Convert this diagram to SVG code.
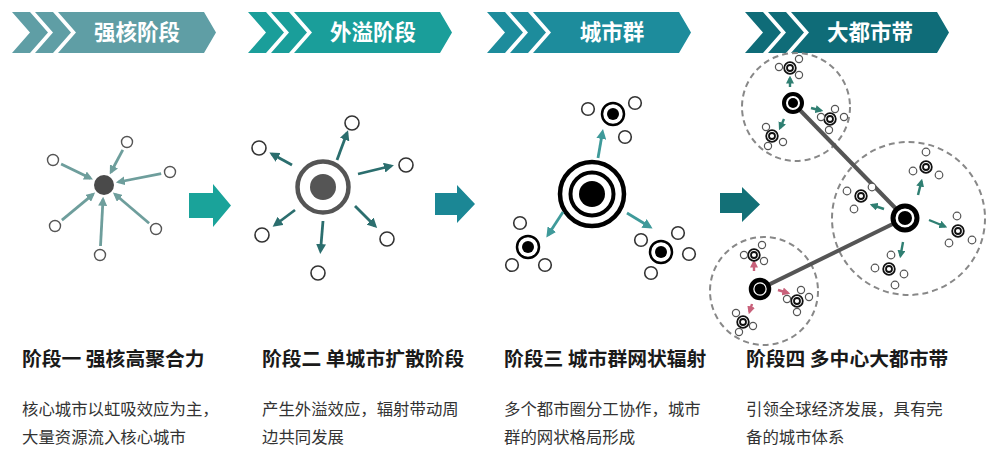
<svg xmlns="http://www.w3.org/2000/svg" width="1000" height="463" viewBox="0 0 1000 463">
<defs>
<style>
.hdr{font-family:"Noto Sans CJK SC","Noto Sans",sans-serif;font-weight:700;font-size:21.5px;fill:#fff;text-anchor:middle}
.ttl{font-family:"Noto Sans CJK SC","Noto Sans",sans-serif;font-weight:700;font-size:19.8px;fill:#1a1a1a}
.body{font-family:"Noto Sans CJK SC","Noto Sans",sans-serif;font-size:16.4px;fill:#333}
.sm{fill:#fff;stroke:#555;stroke-width:1.4}
.sm2{fill:#fff;stroke:#333;stroke-width:1.6}
.sm4{fill:#fff;stroke:#555;stroke-width:1.2}
.dr{fill:#fff;stroke:#111;stroke-width:1.8}
.dash{fill:none;stroke:#888;stroke-width:2;stroke-dasharray:6 4}
.link{stroke:#555;stroke-width:4;fill:none}
.a1{stroke:#6e9e9c;stroke-width:2.8;marker-end:url(#m1)}
.a2{stroke:#2b6e6e;stroke-width:2.8;marker-end:url(#m2)}
.a3{stroke:#3f9a9a;stroke-width:2.8;marker-end:url(#m3)}
.a4{stroke:#2f7f72;stroke-width:2.4;marker-end:url(#m4)}
.a5{stroke:#c8607a;stroke-width:2.4;marker-end:url(#m5)}
</style>
<marker id="m1" viewBox="0 0 10 10" refX="7" refY="5" markerWidth="9" markerHeight="9" markerUnits="userSpaceOnUse" orient="auto"><path d="M0,0 L10,5 L0,10 z" fill="#6e9e9c"/></marker>
<marker id="m2" viewBox="0 0 10 10" refX="7" refY="5" markerWidth="10" markerHeight="10" markerUnits="userSpaceOnUse" orient="auto"><path d="M0,0 L10,5 L0,10 z" fill="#2b6e6e"/></marker>
<marker id="m3" viewBox="0 0 10 10" refX="7" refY="5" markerWidth="10" markerHeight="10" markerUnits="userSpaceOnUse" orient="auto"><path d="M0,0 L10,5 L0,10 z" fill="#3f9a9a"/></marker>
<marker id="m4" viewBox="0 0 10 10" refX="7" refY="5" markerWidth="8" markerHeight="8" markerUnits="userSpaceOnUse" orient="auto"><path d="M0,0 L10,5 L0,10 z" fill="#2f7f72"/></marker>
<marker id="m5" viewBox="0 0 10 10" refX="7" refY="5" markerWidth="8" markerHeight="8" markerUnits="userSpaceOnUse" orient="auto"><path d="M0,0 L10,5 L0,10 z" fill="#c8607a"/></marker>
<g id="banner">
<polygon points="12,12 30,12 48,32.5 30,53 12,53 30,32.5"/>
<polygon points="35,12 53,12 71,32.5 53,53 35,53 53,32.5"/>
<polygon points="58,12 204,12 216,32.5 204,53 58,53 76,32.5"/>
</g>
<g id="dring"><circle r="5.8" class="dr"/><circle r="3" class="dr"/></g>
</defs>
<rect width="1000" height="463" fill="#fff"/>

<!-- headers -->
<g id="header1"><use href="#banner" fill="#5f9ea5"/><text class="hdr" x="137" y="40">强核阶段</text></g>
<g id="header2"><use href="#banner" transform="translate(236,0)" fill="#1a9e9a"/><text class="hdr" x="373" y="40">外溢阶段</text></g>
<g id="header3"><use href="#banner" transform="translate(475,0)" fill="#1d8c9c"/><text class="hdr" x="612" y="40">城市群</text></g>
<g id="header4"><use href="#banner" transform="translate(733,0)" fill="#0f6c78"/><text class="hdr" x="870" y="40">大都市带</text></g>

<!-- transition arrows -->
<g id="step-arrows">
<polygon points="189,193 213,193 213,184 231,205.5 213,227 213,218 189,218" fill="#1aa39a"/>
<polygon points="435,193 457,193 457,185 475,204 457,223 457,215 435,215" fill="#1b8795"/>
<polygon points="720,193 742,193 742,187 760,204.5 742,222 742,213 720,213" fill="#137077"/>
</g>

<!-- stage 1 -->
<g id="stage1">
<circle cx="104" cy="185" r="10" fill="#4a4a4a"/>
<circle cx="127" cy="142" r="5.5" class="sm"/>
<circle cx="53" cy="160" r="5.5" class="sm"/>
<circle cx="170" cy="172" r="5.5" class="sm"/>
<circle cx="55" cy="226" r="5.5" class="sm"/>
<circle cx="156" cy="229" r="5.5" class="sm"/>
<circle cx="100" cy="255" r="5.5" class="sm"/>
</g>

<!-- stage 2 -->
<g id="stage2">
<circle cx="323" cy="187" r="25.5" fill="#fff" stroke="#555" stroke-width="4.5"/>
<circle cx="323" cy="187" r="13" fill="#555"/>
<circle cx="352" cy="123" r="7" class="sm2"/>
<circle cx="259" cy="148" r="7" class="sm2"/>
<circle cx="406" cy="165" r="7" class="sm2"/>
<circle cx="262" cy="235" r="7" class="sm2"/>
<circle cx="387" cy="239" r="7" class="sm2"/>
<circle cx="318" cy="273" r="7" class="sm2"/>
</g>

<!-- stage 3 -->
<g id="stage3">
<circle cx="592" cy="194" r="32" fill="#fff" stroke="#000" stroke-width="4.5"/>
<circle cx="592" cy="194" r="21.5" fill="#fff" stroke="#000" stroke-width="4"/>
<circle cx="592" cy="194" r="13" fill="#000"/>
<g id="sat3-top">
<circle cx="613" cy="114" r="11" fill="#fff" stroke="#000" stroke-width="2.5"/>
<circle cx="613" cy="114" r="6" fill="#000"/>
<circle cx="588" cy="109" r="6.3" class="sm2"/>
<circle cx="635" cy="103" r="6.3" class="sm2"/>
<circle cx="625" cy="137" r="6.3" class="sm2"/>
</g>
<g id="sat3-left">
<circle cx="528" cy="247" r="11" fill="#fff" stroke="#000" stroke-width="2.5"/>
<circle cx="528" cy="247" r="6" fill="#000"/>
<circle cx="520" cy="223" r="6.3" class="sm2"/>
<circle cx="512" cy="265" r="6.3" class="sm2"/>
<circle cx="545" cy="265" r="6.3" class="sm2"/>
</g>
<g id="sat3-right">
<circle cx="661" cy="252" r="11" fill="#fff" stroke="#000" stroke-width="2.5"/>
<circle cx="661" cy="252" r="6" fill="#000"/>
<circle cx="641" cy="240" r="6.3" class="sm2"/>
<circle cx="678" cy="233" r="6.3" class="sm2"/>
<circle cx="689" cy="254" r="6.3" class="sm2"/>
<circle cx="651" cy="273" r="6.3" class="sm2"/>
</g>
</g>

<!-- stage 4 -->
<g id="stage4-regions">
<circle cx="796" cy="107" r="54" class="dash"/>
<circle cx="908.5" cy="218.5" r="76.5" class="dash"/>
<circle cx="764" cy="291" r="54" class="dash"/>
</g>

<g id="connectors">
<line class="link" x1="793" y1="103" x2="905" y2="218"/>
<line class="link" x1="905" y1="218" x2="760" y2="289"/>
<!-- stage 1 arrows -->
<line class="a1" x1="122.8" y1="149.9" x2="111" y2="172"/>
<line class="a1" x1="61.1" y1="164" x2="90.5" y2="178.3"/>
<line class="a1" x1="161.2" y1="173.7" x2="118.5" y2="182"/>
<line class="a1" x1="61.9" y1="220.2" x2="93" y2="194.3"/>
<line class="a1" x1="149.1" y1="223.2" x2="115" y2="194.3"/>
<line class="a1" x1="100.5" y1="246" x2="103" y2="199.5"/>
<!-- stage 2 arrows -->
<line class="a2" x1="337" y1="160" x2="347" y2="133"/>
<line class="a2" x1="292" y1="165" x2="272" y2="154"/>
<line class="a2" x1="358" y1="174" x2="391" y2="166"/>
<line class="a2" x1="295" y1="210" x2="275" y2="225"/>
<line class="a2" x1="355" y1="206" x2="375" y2="226"/>
<line class="a2" x1="323" y1="221" x2="320.5" y2="251"/>
<!-- stage 3 arrows -->
<line class="a3" x1="598" y1="158" x2="602.5" y2="132"/>
<line class="a3" x1="563" y1="212" x2="548" y2="235"/>
<line class="a3" x1="627" y1="213" x2="650" y2="227"/>
<!-- stage 4 arrows -->
<line class="a4" x1="790" y1="87" x2="790" y2="78"/>
<line class="a4" x1="811" y1="108" x2="821" y2="110.5"/>
<line class="a4" x1="784" y1="119" x2="780" y2="128"/>
<line class="a4" x1="918" y1="195" x2="921.5" y2="181"/>
<line class="a4" x1="884" y1="209" x2="872" y2="205"/>
<line class="a4" x1="929" y1="220" x2="945" y2="226.5"/>
<line class="a4" x1="903" y1="242" x2="900.5" y2="256"/>
<line class="a5" x1="754" y1="271" x2="754" y2="262"/>
<line class="a5" x1="778" y1="290" x2="788" y2="293"/>
<line class="a5" x1="752" y1="304" x2="749.5" y2="312"/>
</g>

<g id="hubA">
<circle cx="793" cy="103" r="9" fill="#fff" stroke="#000" stroke-width="4"/>
<circle cx="793" cy="103" r="5" fill="#000"/>
<use href="#dring" x="790" y="68"/>
<circle cx="779" cy="67" r="3.6" class="sm4"/>
<circle cx="799" cy="59" r="3.6" class="sm4"/>
<circle cx="799" cy="75" r="3.6" class="sm4"/>
<use href="#dring" x="830" y="119"/>
<circle cx="835" cy="109" r="3.6" class="sm4"/>
<circle cx="844" cy="117" r="3.6" class="sm4"/>
<circle cx="829" cy="130" r="3.6" class="sm4"/>
<circle cx="821" cy="117" r="3.6" class="sm4"/>
<use href="#dring" x="772" y="136"/>
<circle cx="766" cy="127" r="3.6" class="sm4"/>
<circle cx="783" cy="142" r="3.6" class="sm4"/>
<circle cx="768" cy="146" r="3.6" class="sm4"/>
</g>

<g id="hubB">
<circle cx="905" cy="218" r="12" fill="#fff" stroke="#000" stroke-width="5"/>
<circle cx="905" cy="218" r="7" fill="#000"/>
<use href="#dring" x="926" y="167"/>
<circle cx="926" cy="152" r="3.8" class="sm4"/>
<circle cx="913" cy="171" r="3.8" class="sm4"/>
<circle cx="939" cy="175" r="3.8" class="sm4"/>
<use href="#dring" x="861" y="196"/>
<circle cx="847" cy="191" r="3.8" class="sm4"/>
<circle cx="872" cy="187" r="3.8" class="sm4"/>
<circle cx="854" cy="209" r="3.8" class="sm4"/>
<use href="#dring" x="958" y="231"/>
<circle cx="957" cy="216" r="3.8" class="sm4"/>
<circle cx="972" cy="240" r="3.8" class="sm4"/>
<circle cx="949" cy="243" r="3.8" class="sm4"/>
<use href="#dring" x="889" y="269"/>
<circle cx="891" cy="255" r="3.8" class="sm4"/>
<circle cx="875" cy="268" r="3.8" class="sm4"/>
<circle cx="904" cy="274" r="3.8" class="sm4"/>
<circle cx="895" cy="285" r="3.8" class="sm4"/>
</g>

<g id="hubC">
<circle cx="760" cy="289" r="9" fill="#fff" stroke="#000" stroke-width="4.5"/>
<circle cx="760" cy="289" r="5.5" fill="#000"/>
<use href="#dring" x="754" y="255"/>
<circle cx="744" cy="255" r="3.6" class="sm4"/>
<circle cx="762" cy="245" r="3.6" class="sm4"/>
<circle cx="764" cy="261" r="3.6" class="sm4"/>
<use href="#dring" x="797" y="301"/>
<circle cx="801" cy="290" r="3.6" class="sm4"/>
<circle cx="809" cy="297" r="3.6" class="sm4"/>
<circle cx="787" cy="299" r="3.6" class="sm4"/>
<circle cx="797" cy="312" r="3.6" class="sm4"/>
<use href="#dring" x="743" y="322"/>
<circle cx="736" cy="313" r="3.6" class="sm4"/>
<circle cx="753" cy="326" r="3.6" class="sm4"/>
<circle cx="739" cy="332" r="3.6" class="sm4"/>
</g>

<!-- texts -->
<g id="text1">
<text class="ttl" x="22" y="366">阶段一 强核高聚合力</text>
<text class="body" x="22" y="415">核心城市以虹吸效应为主，</text>
<text class="body" x="22" y="443">大量资源流入核心城市</text>
</g>
<g id="text2">
<text class="ttl" x="262" y="366">阶段二 单城市扩散阶段</text>
<text class="body" x="262" y="415">产生外溢效应，辐射带动周</text>
<text class="body" x="262" y="443">边共同发展</text>
</g>
<g id="text3">
<text class="ttl" x="504" y="366">阶段三 城市群网状辐射</text>
<text class="body" x="504" y="415">多个都市圈分工协作，城市</text>
<text class="body" x="504" y="443">群的网状格局形成</text>
</g>
<g id="text4">
<text class="ttl" x="746" y="366">阶段四 多中心大都市带</text>
<text class="body" x="746" y="415">引领全球经济发展，具有完</text>
<text class="body" x="746" y="443">备的城市体系</text>
</g>
</svg>
